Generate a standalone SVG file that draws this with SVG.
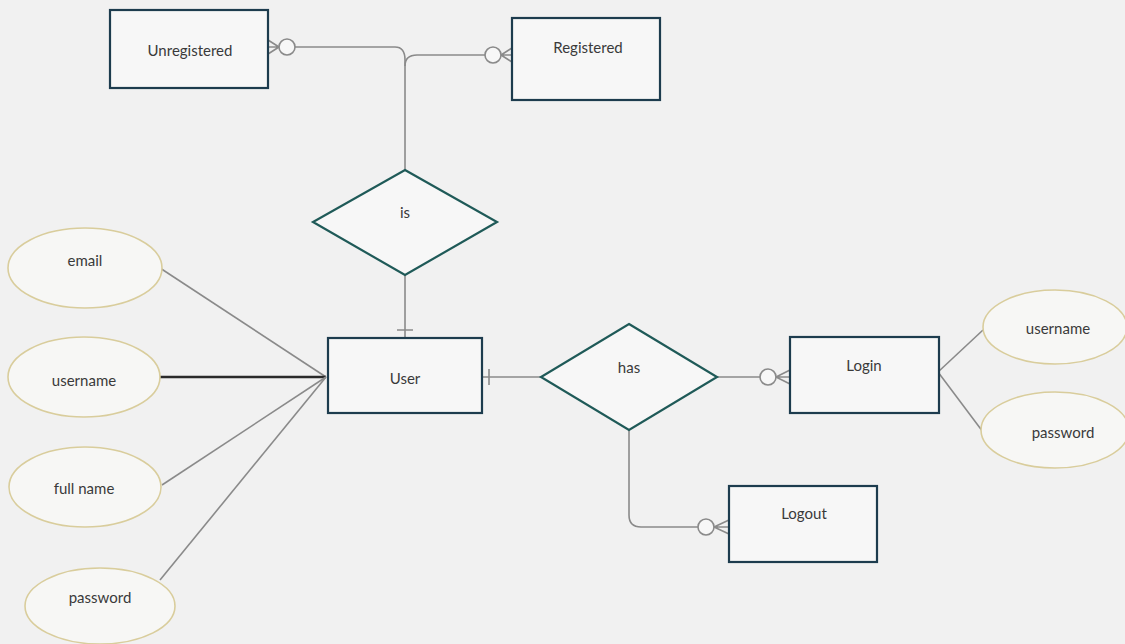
<svg xmlns="http://www.w3.org/2000/svg" width="1125" height="644" viewBox="0 0 1125 644">
<defs>
<style>
.ent{fill:#f7f7f7;stroke:#1d3c4e;stroke-width:2.2}
.rel{fill:#f7f7f7;stroke:#1f5a58;stroke-width:2.2}
.att{fill:#f7f7f5;stroke:#d9cd9c;stroke-width:1.6}
.ln{fill:none;stroke:#8a8a8a;stroke-width:1.6}
.dk{fill:none;stroke:#2a2a2a;stroke-width:2.4}
.cir{fill:#f7f7f7;stroke:#8a8a8a;stroke-width:1.6}
text{font-family:Lato,"Open Sans","Liberation Sans",sans-serif;font-size:15px;fill:#3a3a3a;text-anchor:middle;dominant-baseline:central}
</style>
</defs>
<rect x="0" y="0" width="1125" height="644" fill="#f1f1f1"/>
<g id="connectors">
<!-- Unregistered / Registered to is -->
<path class="ln" d="M295,47 L395,47 Q405,47 405,60 L405,170"/>
<path class="ln" d="M485,55 L417,55 Q405,55 405,66"/>
<circle class="cir" cx="287" cy="47" r="8"/>
<path class="ln" d="M279,47 L268,40 M279,47 L268,54 M279,47 L268,47"/>
<circle class="cir" cx="493" cy="55" r="8"/>
<path class="ln" d="M501,55 L512,48 M501,55 L512,62 M501,55 L512,55"/>
<!-- is to User -->
<path class="ln" d="M405,275 L405,338 M397,330 L413,330"/>
<!-- User to has -->
<path class="ln" d="M482,377 L541,377 M489,369 L489,385"/>
<!-- has to Login -->
<path class="ln" d="M717,377 L760,377"/>
<circle class="cir" cx="768" cy="377" r="8"/>
<path class="ln" d="M776,377 L790,370 M776,377 L790,384 M776,377 L790,377"/>
<!-- has to Logout -->
<path class="ln" d="M629,430 L629,515 Q629,527 641,527 L698,527"/>
<circle class="cir" cx="706" cy="527" r="8"/>
<path class="ln" d="M714,527 L729,520 M714,527 L729,534 M714,527 L729,527"/>
<!-- User attributes -->
<path class="ln" d="M160,268 L326,377"/>
<path class="dk" d="M160,377 L326,377"/>
<path class="ln" d="M162,485 L326,377"/>
<path class="ln" d="M160,580 L326,377"/>
<!-- Login attributes -->
<path class="ln" d="M938,372 L983,330"/>
<path class="ln" d="M938,372 L983,432"/>
</g>
<g id="unregistered"><rect class="ent" x="110" y="10" width="158" height="78"/><text x="190" y="50">Unregistered</text></g>
<g id="registered"><rect class="ent" x="512" y="18" width="148" height="82"/><text x="588" y="47">Registered</text></g>
<g id="is"><polygon class="rel" points="405,170 497,222 405,275 313,222"/><text x="405" y="212">is</text></g>
<g id="user"><rect class="ent" x="328" y="338" width="154" height="75"/><text x="405" y="378">User</text></g>
<g id="has"><polygon class="rel" points="629,324 717,377 629,430 541,377"/><text x="629" y="367">has</text></g>
<g id="login"><rect class="ent" x="790" y="337" width="149" height="76"/><text x="864" y="365">Login</text></g>
<g id="logout"><rect class="ent" x="729" y="486" width="148" height="76"/><text x="804" y="513">Logout</text></g>
<g id="email"><ellipse class="att" cx="85" cy="268" rx="77" ry="40"/><text x="85" y="260">email</text></g>
<g id="username"><ellipse class="att" cx="84" cy="377" rx="76" ry="40"/><text x="84" y="380">username</text></g>
<g id="fullname"><ellipse class="att" cx="85" cy="487" rx="76" ry="40"/><text x="84" y="488">full name</text></g>
<g id="password"><ellipse class="att" cx="100" cy="606" rx="75" ry="38"/><text x="100" y="597">password</text></g>
<g id="login-username"><ellipse class="att" cx="1055" cy="327" rx="72" ry="37"/><text x="1058" y="328">username</text></g>
<g id="login-password"><ellipse class="att" cx="1055" cy="430" rx="74" ry="38"/><text x="1063" y="432">password</text></g>
</svg>
